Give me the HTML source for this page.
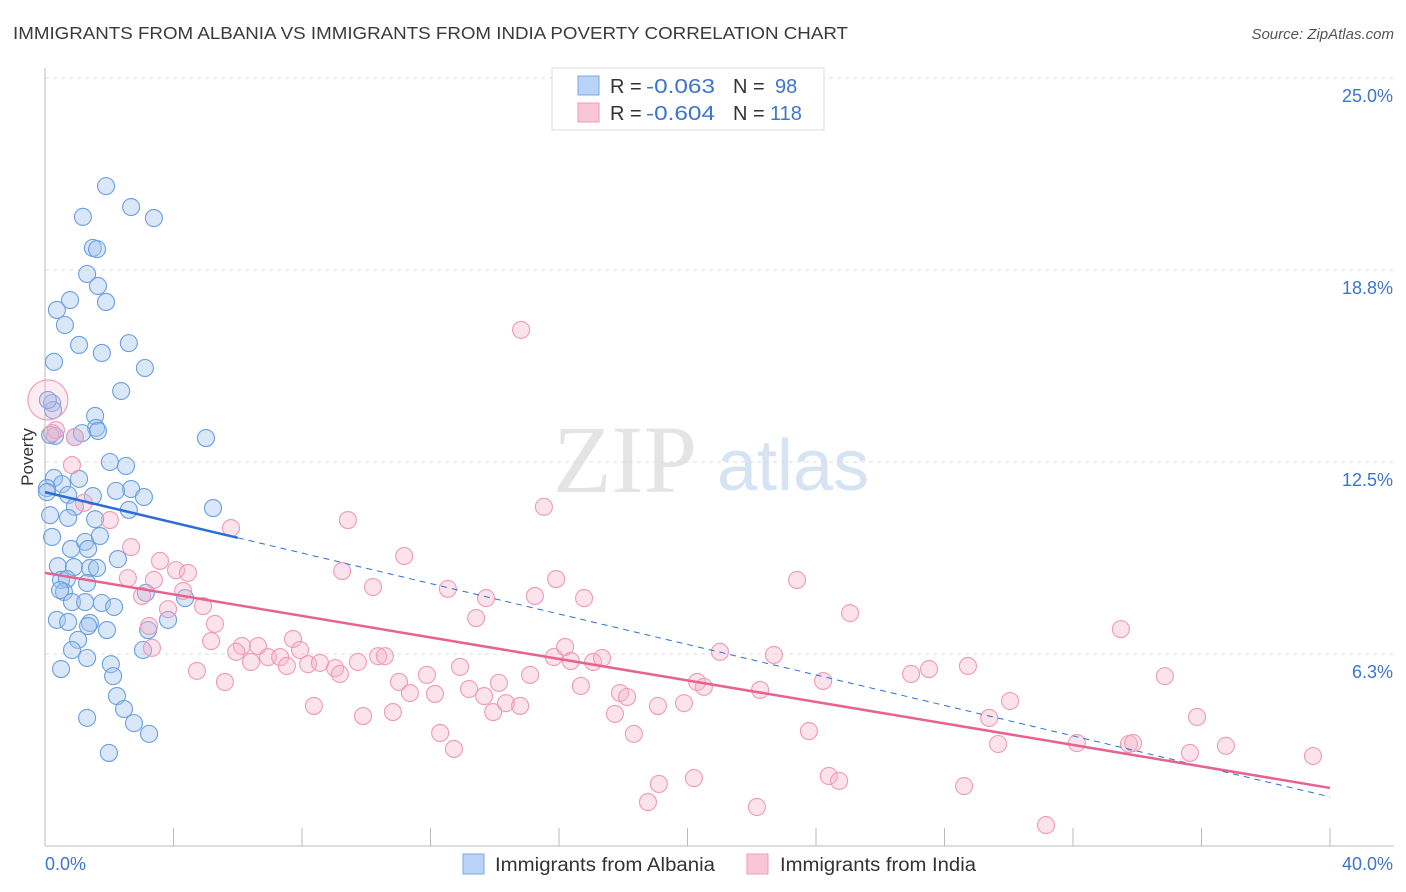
<!DOCTYPE html>
<html><head><meta charset="utf-8"><style>
body{margin:0;background:#fff;font-family:"Liberation Sans",sans-serif;}
svg{display:block}
</style></head><body>
<svg id="chart" width="1406" height="892" xmlns="http://www.w3.org/2000/svg">
<text x="13" y="39" font-size="17.5" fill="#3a3a3a" textLength="835" lengthAdjust="spacingAndGlyphs">IMMIGRANTS FROM ALBANIA VS IMMIGRANTS FROM INDIA POVERTY CORRELATION CHART</text>
<text x="1394" y="39" font-size="15" fill="#555" text-anchor="end" font-style="italic">Source: ZipAtlas.com</text>
<text x="553" y="492" font-size="96" fill="#e4e4e4" font-family="Liberation Serif, serif">ZIP</text>
<text x="717" y="490" font-size="72" fill="#d6e3f3">atlas</text>
<text transform="translate(33,457) rotate(-90)" font-size="17" fill="#333" text-anchor="middle">Poverty</text>
<g id="grid"></g><g id="axes"></g><g id="pts"></g><g id="trend"></g>
<g>
<rect x="552" y="68" width="272" height="62" fill="#fff" stroke="#ddd"/>
<rect x="578" y="76" width="21" height="19" fill="#b8d3f5" stroke="#7aa8e6"/>
<rect x="578" y="103" width="21" height="19" fill="#f9c6d6" stroke="#ee9ab5"/>
<text x="610" y="93" font-size="20" fill="#333">R =</text>
<text x="646" y="93" font-size="20" fill="#3d74cf" textLength="69" lengthAdjust="spacingAndGlyphs">-0.063</text>
<text x="733" y="93" font-size="20" fill="#333">N =</text>
<text x="775" y="93" font-size="20" fill="#3d74cf">98</text>
<text x="610" y="120" font-size="20" fill="#333">R =</text>
<text x="646" y="120" font-size="20" fill="#3d74cf" textLength="69" lengthAdjust="spacingAndGlyphs">-0.604</text>
<text x="733" y="120" font-size="20" fill="#333">N =</text>
<text x="770" y="120" font-size="20" fill="#3d74cf">118</text>
</g>
<g>
<rect x="463" y="854" width="21" height="20" fill="#b8d3f5" stroke="#7aa8e6"/>
<text x="495" y="871" font-size="19" fill="#333" textLength="220" lengthAdjust="spacingAndGlyphs">Immigrants from Albania</text>
<rect x="747" y="854" width="21" height="20" fill="#f9c6d6" stroke="#ee9ab5"/>
<text x="780" y="871" font-size="19" fill="#333" textLength="196" lengthAdjust="spacingAndGlyphs">Immigrants from India</text>
</g>
</svg>
<script>
const yTicks=[6.25,12.5,18.75,25];
const yTickLabels=["6.3%","12.5%","18.8%","25.0%"];
const xTickCount=10;
const xEndLabels=["0.0%","40.0%"];
const albaniaX=[1.90,2.68,3.39,1.18,1.49,1.62,1.31,1.65,1.90,0.78,0.37,0.62,1.06,1.77,2.61,0.28,3.11,2.37,5.01,0.22,0.25,1.56,1.59,1.65,0.31,0.93,1.15,2.02,2.52,0.28,0.53,1.06,0.72,1.49,2.68,2.21,3.08,0.06,0.06,5.23,2.61,0.93,0.72,0.16,0.22,1.56,0.81,1.25,1.71,1.34,2.27,0.40,0.90,1.40,1.62,0.50,0.68,1.31,0.59,0.47,0.84,1.25,1.77,2.15,3.14,4.36,3.83,0.37,0.72,1.40,1.34,1.93,3.21,1.03,0.84,3.05,1.31,2.05,0.50,2.12,2.24,2.46,1.31,2.77,3.24,1.99,0.16,0.09];
const albaniaY=[21.48,20.80,20.44,20.48,19.47,19.43,18.62,18.23,17.71,17.77,17.45,16.96,16.31,16.05,16.37,15.76,15.56,14.81,13.28,14.42,14.19,14.00,13.61,13.51,13.35,13.31,13.44,12.50,12.37,11.98,11.78,11.95,11.43,11.39,11.62,11.56,11.36,11.65,11.52,11.00,10.94,11.04,10.68,10.77,10.06,10.64,9.67,9.90,10.09,9.67,9.34,9.11,9.08,9.05,9.05,8.66,8.69,8.56,8.27,8.33,7.94,7.94,7.91,7.78,8.24,8.07,7.36,7.36,7.29,7.26,7.16,7.03,7.03,6.71,6.38,6.38,6.12,5.92,5.76,5.53,4.88,4.46,4.17,4.00,3.65,3.03,13.38,14.52];
const indiaX=[14.82,15.53,9.43,5.79,11.18,3.58,9.25,10.21,12.54,15.91,13.73,15.25,16.78,23.41,25.06,33.49,2.02,1.21,0.84,0.93,0.34,0.09,0.22,2.68,2.58,4.08,4.45,3.39,3.02,4.30,4.92,3.83,3.24,5.29,5.17,3.33,6.13,6.63,5.95,6.94,6.41,7.32,7.72,7.94,7.53,8.19,8.56,9.03,9.18,9.74,10.37,10.58,4.73,5.60,8.37,9.90,10.83,11.02,11.36,11.89,12.14,12.92,13.20,13.67,14.13,13.95,14.35,14.79,15.10,13.42,15.84,16.19,16.37,17.06,17.34,16.68,17.90,18.12,17.74,19.08,19.89,20.30,20.51,22.26,21.01,22.69,24.22,23.78,12.30,12.73,18.33,19.11,18.77,20.20,22.16,24.40,24.72,26.96,27.52,28.73,30.04,29.39,28.61,29.67,31.16,32.12,33.74,33.87,34.86,35.86,35.64,36.76,39.47];
const indiaY=[16.80,11.04,10.61,10.35,9.44,9.28,8.95,8.43,8.37,8.69,8.07,8.14,8.07,8.66,7.58,7.06,10.61,11.17,12.40,13.31,13.54,14.52,13.44,9.73,8.72,8.98,8.89,8.66,8.14,8.30,7.81,7.71,7.16,7.23,6.67,6.45,6.51,6.51,6.32,6.15,5.99,6.15,6.74,6.38,5.86,5.92,5.96,5.79,5.60,5.99,6.18,6.18,5.70,5.34,4.56,4.23,4.36,5.34,4.98,5.57,4.95,5.83,5.11,4.88,5.31,4.36,4.65,4.56,5.57,7.42,6.15,6.48,6.02,5.99,6.12,5.21,4.98,4.85,4.30,4.56,4.65,5.34,5.18,5.08,6.32,6.22,5.37,3.74,3.68,3.16,3.65,2.02,1.43,2.21,1.27,2.28,2.12,5.60,5.76,5.86,4.72,4.17,1.95,3.32,0.68,3.35,3.32,3.35,5.53,4.20,3.03,3.26,2.93];
const albaniaTrend=[11.52,1.60];
const indiaTrend=[8.89,1.89];
const xMax=40,yMax=25;
const X0=45,X1=1330,Y0=846,Y1=78;
const sx=v=>X0+(v/xMax)*(X1-X0);
const sy=v=>Y0-(v/yMax)*(Y0-Y1);
const NS="http://www.w3.org/2000/svg";
function mk(tag,attrs,parent){const e=document.createElementNS(NS,tag);for(const k in attrs)e.setAttribute(k,attrs[k]);parent.appendChild(e);return e;}
const grid=document.getElementById('grid'),axes=document.getElementById('axes'),pts=document.getElementById('pts'),trend=document.getElementById('trend');
yTicks.forEach((t,i)=>{
 const l=mk('line',{x1:X0,x2:1394,y1:sy(t),y2:sy(t),stroke:'#ddd','stroke-dasharray':'4,4'},grid);
 
 
 const tx=mk('text',{x:1393,y:sy(t)+24,'font-size':18,fill:'#3d74cf','text-anchor':'end'},grid);
 tx.textContent=yTickLabels[i];
 
 
});
const ya=mk('line',{x1:X0,x2:X0,y1:68,y2:Y0,stroke:'#bbb'},axes);


const xa=mk('line',{x1:X0,x2:1394,y1:Y0,y2:Y0,stroke:'#bbb'},axes);


for(let i=0;i<=xTickCount;i++){
 const v=xMax*i/xTickCount;
 const t=mk('line',{x1:sx(v),x2:sx(v),y1:828,y2:Y0,stroke:'#bbb'},axes);
 
 
}
[[0,'start',45],[xMax,'end',1393]].forEach((d,i)=>{
 const tx=mk('text',{x:d[2],y:870,'font-size':18,fill:'#3d74cf','text-anchor':d[1]},axes);
 tx.textContent=xEndLabels[i];
 
 
});
albaniaX.forEach((x,i)=>{
 const c=mk('circle',{cx:sx(x),cy:sy(albaniaY[i]),r:8.5,fill:'rgba(160,196,240,0.4)',stroke:'#6a9fe0','stroke-width':1.1},pts);
 
 
});
indiaX.forEach((x,i)=>{
 const big=(x<0.1);
 const c=mk('circle',{cx:sx(x),cy:sy(indiaY[i]),r:big?20:8.5,fill:big?'rgba(246,180,200,0.25)':'rgba(246,180,200,0.38)',stroke:'#ee9ab5','stroke-width':1.1},pts);
 
 
});
const bAt=x=>albaniaTrend[0]+(albaniaTrend[1]-albaniaTrend[0])*x/xMax;
const b1=mk('line',{x1:sx(0),y1:sy(bAt(0)),x2:sx(6),y2:sy(bAt(6)),stroke:'#2b6fd6','stroke-width':2.5},trend);


const b2=mk('line',{x1:sx(6),y1:sy(bAt(6)),x2:sx(xMax),y2:sy(bAt(xMax)),stroke:'#2b6fd6','stroke-width':1,'stroke-dasharray':'6,5'},trend);


const p1=mk('line',{x1:sx(0),y1:sy(indiaTrend[0]),x2:sx(xMax),y2:sy(indiaTrend[1]),stroke:'#e6638f','stroke-width':2.5},trend);


</script>
</body></html>
